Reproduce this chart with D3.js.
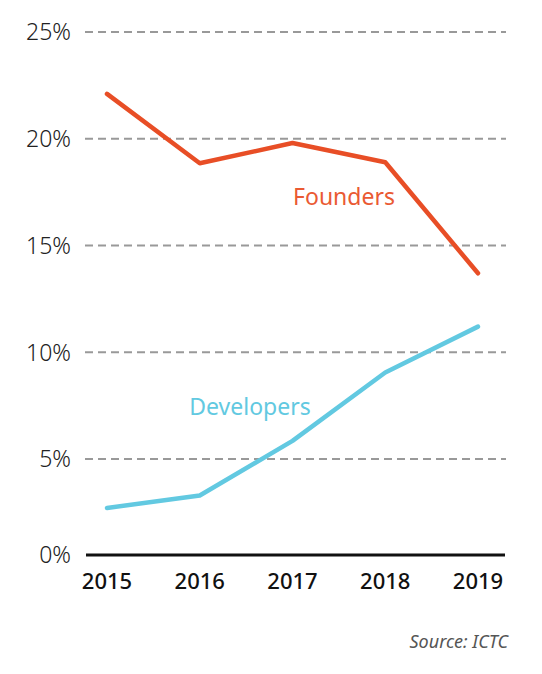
<!DOCTYPE html>
<html>
<head>
<meta charset="UTF-8">
<title>Founders vs Developers</title>
<script src="https://d3js.org/d3.v7.min.js"></script>
<style>
html, body { margin: 0; padding: 0; background: #fff; }
svg { display: block; font-family: "Noto Sans", "Open Sans", sans-serif; }
</style>
</head>
<body>
<div id="chart"></div>
<script>
// data
var years = ["2015", "2016", "2017", "2018", "2019"];
var founders = [22.1, 18.85, 19.8, 18.9, 13.7];
var developers = [2.45, 3.1, 5.85, 9.05, 11.2];
var yTicks = [0, 5, 10, 15, 20, 25];

var W = 542, H = 674;

var svg = d3.select("#chart").append("svg")
  .attr("width", W)
  .attr("height", H);

var x = d3.scalePoint().domain(years).range([107, 478]);
// baseline sits a little higher than the grid spacing would put it
var y = d3.scaleLinear().domain([0, 5, 25]).range([555, 459, 32]);

// dashed gridlines
svg.append("g")
  .selectAll("line")
  .data(yTicks.filter(function(d){ return d > 0; }))
  .join("line")
  .attr("x1", 85).attr("x2", 506)
  .attr("y1", function(d){ return y(d); })
  .attr("y2", function(d){ return y(d); })
  .attr("stroke", "#999")
  .attr("stroke-width", 2)
  .attr("stroke-dasharray", "8,5");

// y labels
svg.append("g")
  .selectAll("text")
  .data(yTicks)
  .join("text")
  .attr("x", 71)
  .attr("y", function(d){ return y(d); })
  .attr("dy", "0.36em")
  .attr("text-anchor", "end")
  .attr("font-size", 23)
  .attr("font-weight", 300)
  .attr("fill", "#222")
  .text(function(d){ return d + "%"; });

// baseline
svg.append("line")
  .attr("x1", 86).attr("x2", 505)
  .attr("y1", y(0)).attr("y2", y(0))
  .attr("stroke", "#111")
  .attr("stroke-width", 3);

// year labels
svg.append("g")
  .selectAll("text")
  .data(years)
  .join("text")
  .attr("x", function(d){ return x(d); })
  .attr("y", 589)
  .attr("text-anchor", "middle")
  .attr("font-size", 22)
  .attr("font-weight", 500)
  .attr("fill", "#111")
  .text(function(d){ return d; });

var line = d3.line()
  .x(function(d, i){ return x(years[i]); })
  .y(function(d){ return y(d); });

svg.append("path")
  .datum(founders)
  .attr("d", line)
  .attr("fill", "none")
  .attr("stroke", "#e84e26")
  .attr("stroke-width", 4.5)
  .attr("stroke-linecap", "round")
  .attr("stroke-linejoin", "round");

svg.append("path")
  .datum(developers)
  .attr("d", line)
  .attr("fill", "none")
  .attr("stroke", "#62c9e1")
  .attr("stroke-width", 4.5)
  .attr("stroke-linecap", "round")
  .attr("stroke-linejoin", "round");

// series labels
svg.append("text")
  .attr("x", 344).attr("y", 205)
  .attr("text-anchor", "middle")
  .attr("font-size", 23)
  .attr("fill", "#ea5a33")
  .text("Founders");

svg.append("text")
  .attr("x", 250).attr("y", 415)
  .attr("text-anchor", "middle")
  .attr("font-size", 23)
  .attr("fill", "#62c9e1")
  .text("Developers");

// source
svg.append("text")
  .attr("x", 508).attr("y", 648)
  .attr("text-anchor", "end")
  .attr("font-size", 18)
  .attr("font-style", "italic")
  .attr("fill", "#555")
  .text("Source: ICTC");
</script>
</body>
</html>
